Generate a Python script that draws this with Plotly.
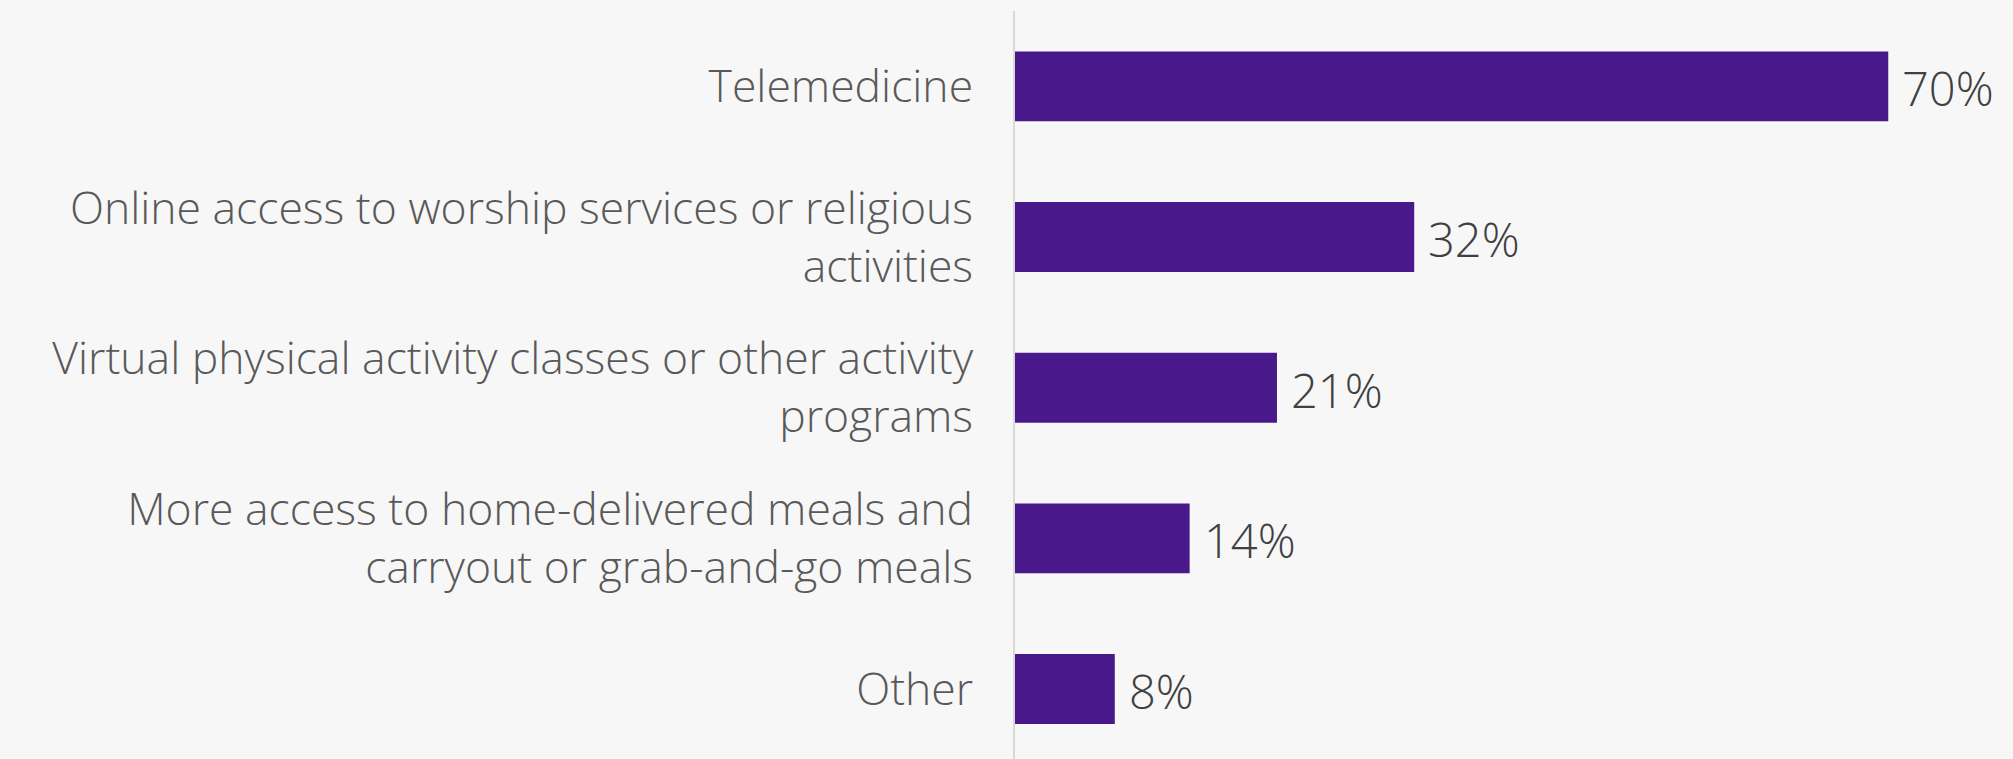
import plotly.graph_objects as go

categories = [
    "Telemedicine",
    "Online access to worship services or religious<br>activities",
    "Virtual physical activity classes or other activity<br>programs",
    "More access to home-delivered meals and<br>carryout or grab-and-go meals",
    "Other",
]
values = [70, 32, 21, 14, 8]
value_labels = ["70%", "32%", "21%", "14%", "8%"]

BAR = "#49198b"
BG = "#f7f7f7"

fig = go.Figure()
fig.add_trace(go.Bar(
    x=values, y=categories, orientation="h",
    marker=dict(color=BAR, line=dict(width=0)),
    hoverinfo="skip",
))
for c, v, t in zip(categories, values, value_labels):
    fig.add_annotation(x=v, y=c, text=t, showarrow=False, xanchor="left",
                       xshift=12, yshift=-2,
                       font=dict(family="Open Sans", size=47, weight=300, color="#404040"))

fig.update_layout(
    width=2013, height=759,
    margin=dict(l=1015, r=0, t=11, b=0),
    paper_bgcolor=BG, plot_bgcolor=BG,
    bargap=0.536,
    showlegend=False,
    xaxis=dict(range=[0, 80], visible=False),
    yaxis=dict(
        range=[4.464, -0.5], showgrid=False, zeroline=False,
        showline=True, linecolor="#d9d9d9", linewidth=2,
        ticks="outside", ticklen=31, tickcolor="rgba(0,0,0,0)",
        tickfont=dict(family="Open Sans", size=44.5, weight=300, color="#595959"),
    ),
)
fig.write_html(
    "out.html",
    config={"displayModeBar": False},
    post_script="document.body.style.margin='0';document.body.style.background='#f7f7f7';",
)
